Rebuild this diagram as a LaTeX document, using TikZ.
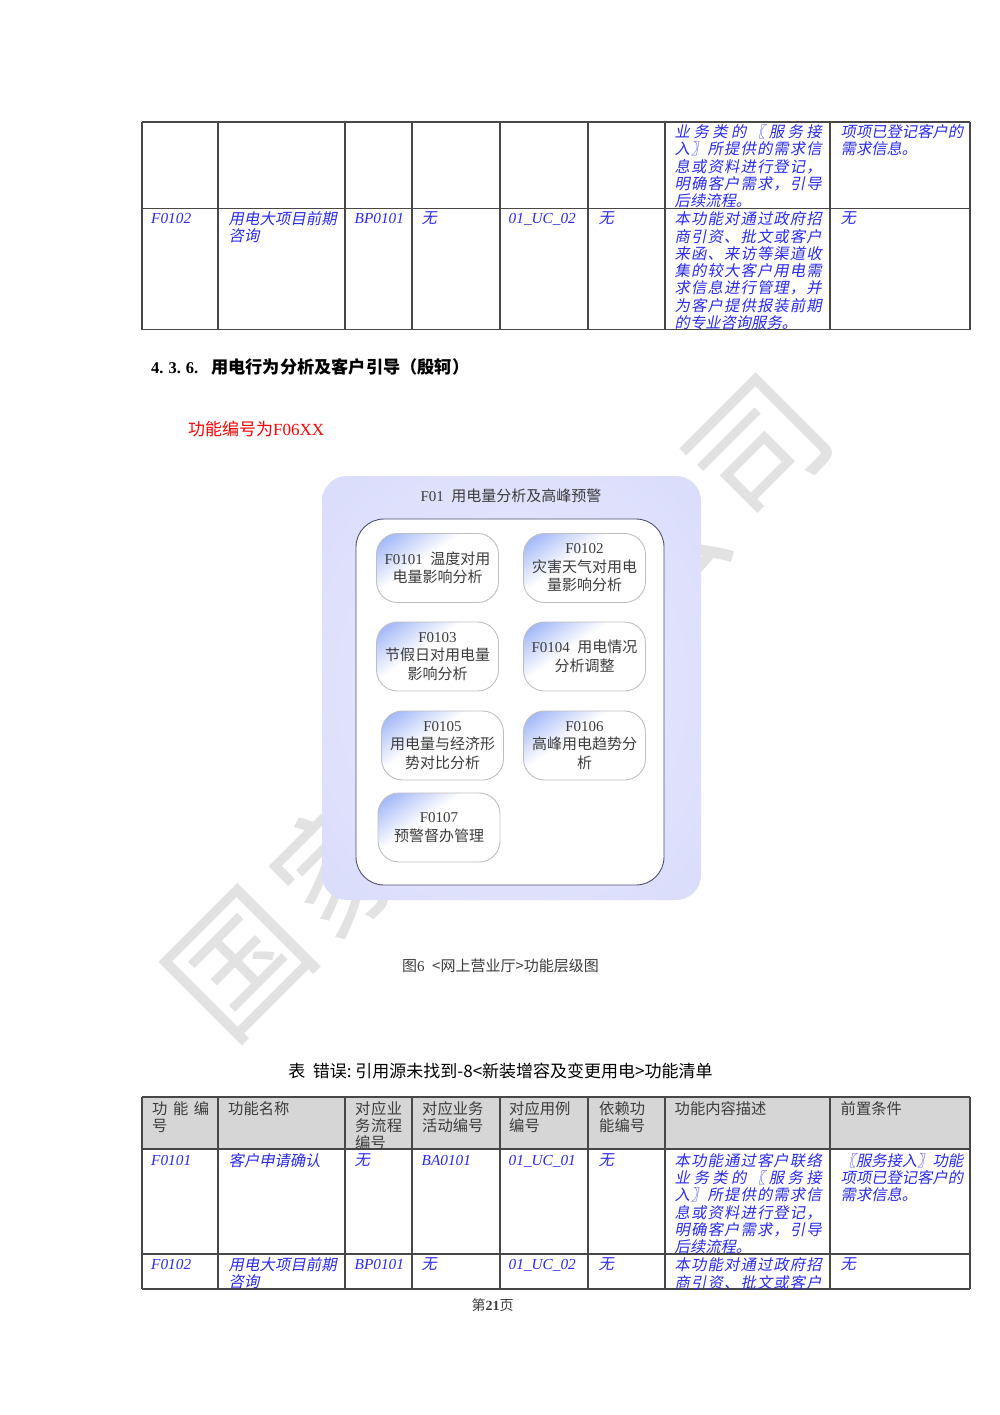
\documentclass[tikz,border=0pt]{standalone}
\usepackage{fontspec}
\setmainfont{Liberation Serif}
\newfontfamily\cjk{Noto Sans CJK SC}
\newfontfamily\cjki[FakeSlant=0.2]{Noto Sans CJK SC}
\newcommand\jl[2]{\makebox[#1pt][s]{\spaceskip=0pt plus 1fil\relax #2}}
\definecolor{tblblue}{HTML}{2A2AF0}
\definecolor{txtgray}{HTML}{3C3C3C}
\definecolor{hdrgray}{HTML}{D6D6D6}
\definecolor{wmgray}{HTML}{E2E2E2}
\definecolor{panelout}{HTML}{D6D9FB}
\definecolor{panelmid}{HTML}{E1E3FC}
\definecolor{panelin}{HTML}{E8E9FD}
\definecolor{cardblue}{HTML}{8CA6F6}
\definecolor{innerline}{HTML}{4F4F72}
\pgfdeclareverticalshading{cardshade}{100bp}{color(0bp)=(white); color(58bp)=(white); color(86bp)=(cardblue); color(100bp)=(cardblue)}
\pgfdeclareradialshading{panelshade}{\pgfpoint{0bp}{0bp}}{color(0bp)=(panelin); color(20bp)=(panelmid); color(42bp)=(panelout); color(100bp)=(panelout)}
\tikzset{
  x=1pt,y=-1pt,
  wm/.style={text=wmgray,inner sep=0,rotate=45,font=\fontsize{135}{135}\selectfont\cjk},
  grid/.style={draw=black!72,line width=1.05pt},
  cellb/.style={anchor=north west,inner sep=0,align=left,text=tblblue,font=\fontsize{15.3}{17.3}\selectfont\itshape,execute at begin node=\strut},
  cellz/.style={anchor=north west,inner sep=0,align=left,text=tblblue,font=\fontsize{15.3}{17.3}\selectfont\cjki,execute at begin node=\strut},
  cellg/.style={anchor=north west,inner sep=0,align=left,text=txtgray,font=\fontsize{15.3}{17.3}\selectfont\cjk,execute at begin node=\strut},
  panel/.style={rounded corners=25pt,shading=panelshade},
  inner/.style={rounded corners=28pt,draw=innerline,fill=white,line width=0.9pt},
  card/.style={rounded corners=21pt,draw=black!25,line width=0.9pt,shading=cardshade,shading angle=35,minimum width=122pt,minimum height=69pt,inner sep=0,align=center,text=txtgray,font=\fontsize{15}{18.5}\selectfont},
  plain/.style={inner sep=0,text=txtgray,font=\fontsize{15}{18}\selectfont},
}
\begin{document}
\begin{tikzpicture}
\useasboundingbox (0,0) rectangle (1000,1415);
\fill[white] (0,0) rectangle (1000,1415);
% watermark
\node[wm] (w1) at (240,965) {国};
\node[wm] (w2) at (344,862) {家};
\node[wm] (w3) at (448,759) {电};
\node[wm] (w4) at (552,656) {网};
\node[wm] (w5) at (656,553) {公};
\node[wm] (w6) at (760,450) {司};
% top table
\foreach \yy in {122,208.5,329.5} \draw[grid] (142,\yy) -- (970,\yy);
\foreach \xx in {142,218,345,412,500,588,665,830,970} \draw[grid] (\xx,122) -- (\xx,329.5);
\node[cellz] (t1g) at (674.5,124.5) {\jl{147}{业 务 类 的 〖 服 务 接}\\\jl{147}{入 〗 所 提 供 的 需 求 信}\\\jl{147}{息 或 资 料 进 行 登 记 ，}\\\jl{147}{明 确 客 户 需 求 ， 引 导}\\后续流程。};
\node[cellz] (t1h) at (840.5,124.5) {\jl{120}{项 项 已 登 记 客 户 的}\\需求信息。};
\node[cellb] (t2a) at (151,211.5) {F0102};
\node[cellz] (t2b) at (228.5,211.5) {\jl{108}{用 电 大 项 目 前 期}\\咨询};
\node[cellb] (t2c) at (354.5,211.5) {BP0101};
\node[cellz] (t2d) at (421.5,211.5) {无};
\node[cellb] (t2e) at (508.5,211.5) {01\_UC\_02};
\node[cellz] (t2f) at (598.5,211.5) {无};
\node[cellz] (t2g) at (674.5,211.5) {\jl{147}{本 功 能 对 通 过 政 府 招}\\\jl{147}{商 引 资 、 批 文 或 客 户}\\\jl{147}{来 函 、 来 访 等 渠 道 收}\\\jl{147}{集 的 较 大 客 户 用 电 需}\\\jl{147}{求 信 息 进 行 管 理 ， 并}\\\jl{147}{为 客 户 提 供 报 装 前 期}\\的专业咨询服务。};
\node[cellz] (t2h) at (840.5,211.5) {无};
% heading
\node[anchor=west,inner sep=0,font=\fontsize{16.5}{18}\selectfont\bfseries] (head) at (151,367) {\makebox[60pt][l]{4.\hspace{5pt}3.\hspace{5pt}6.}{\cjk\fontsize{17.2}{18}\selectfont 用电行为分析及客户引导（殷轲）}};
\node[anchor=west,inner sep=0,text=red,font=\fontsize{17}{20}\selectfont] (req) at (188,429) {{\cjk 功能编号为}F06XX};
% diagram
\path[panel] (322,476) rectangle (701,900);
\node[plain] (title) at (511,496) {F01\ \ {\cjk 用电量分析及高峰预警}};
\draw[inner] (356,519) rectangle (664,885);
\node[card] (f1) at (437.5,568) {F0101\ \ {\cjk 温度对用}\\{\cjk 电量影响分析}};
\node[card] (f2) at (584.5,568) {F0102\\{\cjk 灾害天气对用电}\\{\cjk 量影响分析}};
\node[card] (f3) at (437.5,656.5) {F0103\\{\cjk 节假日对用电量}\\{\cjk 影响分析}};
\node[card] (f4) at (584.5,656.5) {F0104\ \ {\cjk 用电情况}\\{\cjk 分析调整}};
\node[card] (f5) at (442.5,745.5) {F0105\\{\cjk 用电量与经济形}\\{\cjk 势对比分析}};
\node[card] (f6) at (584.5,745.5) {F0106\\{\cjk 高峰用电趋势分}\\{\cjk 析}};
\node[card] (f7) at (439,827.5) {F0107\\{\cjk 预警督办管理}};
\node[plain] (cap) at (500.5,966) {{\cjk 图}6\ \ {\cjk <网上营业厅>功能层级图}};
\node[inner sep=0,font=\fontsize{17}{18}\selectfont\cjk] (cap2) at (500.5,1071) {表\ \ 错误:\ 引用源未找到-8<新装增容及变更用电>功能清单};
% bottom table
\fill[hdrgray] (142,1097) rectangle (970,1149);
\foreach \yy in {1097,1149,1254,1289} \draw[grid] (142,\yy) -- (970,\yy);
\foreach \xx in {142,218,345,412,500,588,665,830,970} \draw[grid] (\xx,1097) -- (\xx,1289);
\node[cellg] (h1) at (152,1101) {\jl{57}{功 能 编}\\号};
\node[cellg] (h2) at (228,1101) {功能名称};
\node[cellg] (h3) at (355,1101) {\jl{47}{对 应 业}\\\jl{47}{务 流 程}\\编号};
\node[cellg] (h4) at (422,1101) {对应业务\\活动编号};
\node[cellg] (h5) at (509,1101) {对应用例\\编号};
\node[cellg] (h6) at (599,1101) {依赖功\\能编号};
\node[cellg] (h7) at (674.5,1101) {功能内容描述};
\node[cellg] (h8) at (840.5,1101) {前置条件};
\node[cellb] (r1a) at (151,1153) {F0101};
\node[cellz] (r1b) at (228.5,1153) {客户申请确认};
\node[cellz] (r1c) at (354.5,1153) {无};
\node[cellb] (r1d) at (421.5,1153) {BA0101};
\node[cellb] (r1e) at (508.5,1153) {01\_UC\_01};
\node[cellz] (r1f) at (598.5,1153) {无};
\node[cellz] (r1g) at (674.5,1153) {\jl{147}{本 功 能 通 过 客 户 联 络}\\\jl{147}{业 务 类 的 〖 服 务 接}\\\jl{147}{入 〗 所 提 供 的 需 求 信}\\\jl{147}{息 或 资 料 进 行 登 记 ，}\\\jl{147}{明 确 客 户 需 求 ， 引 导}\\后续流程。};
\node[cellz] (r1h) at (840.5,1153) {\jl{120}{〖 服 务 接 入 〗 功 能}\\\jl{120}{项 项 已 登 记 客 户 的}\\需求信息。};
\node[cellb] (r2a) at (151,1257.5) {F0102};
\node[cellz] (r2b) at (228.5,1257.5) {\jl{108}{用 电 大 项 目 前 期}\\咨询};
\node[cellb] (r2c) at (354.5,1257.5) {BP0101};
\node[cellz] (r2d) at (421.5,1257.5) {无};
\node[cellb] (r2e) at (508.5,1257.5) {01\_UC\_02};
\node[cellz] (r2f) at (598.5,1257.5) {无};
\node[cellz] (r2g) at (674.5,1257.5) {\jl{147}{本 功 能 对 通 过 政 府 招}\\\jl{147}{商 引 资 、 批 文 或 客 户}};
\node[cellz] (r2h) at (840.5,1257.5) {无};
\node[inner sep=0,font=\fontsize{14}{16}\selectfont,text=txtgray] (pg) at (492.5,1305) {{\cjk 第}\textbf{21}{\cjk 页}};
\end{tikzpicture}
\end{document}
